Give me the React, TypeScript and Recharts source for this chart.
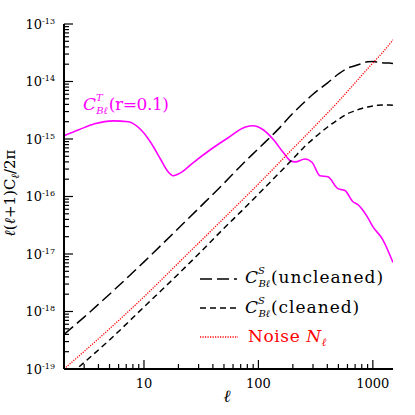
import React from "react";
import { LineChart, Line, XAxis, YAxis } from "recharts";

// multipole values and l(l+1)C_l/2pi
const ellTensor = [2, 2.7, 3.7, 5.4, 7.3, 9.4, 11.5, 14, 16, 18, 21, 27, 38, 54, 77, 90, 110, 135, 165, 190, 210, 255, 295, 345, 405, 495, 570, 670, 740, 890, 1000, 1220, 1500];
const clTensor = [1.14e-15, 1.45e-15, 1.84e-15, 2.07e-15, 2.0e-15, 1.45e-15, 8.6e-16, 4.4e-16, 2.8e-16, 2.3e-16, 2.6e-16, 3.9e-16, 6.5e-16, 1.04e-15, 1.62e-15, 1.7e-15, 1.45e-15, 9.8e-16, 5.8e-16, 4.2e-16, 4.0e-16, 4.5e-16, 3.9e-16, 2.3e-16, 2.2e-16, 1.37e-16, 1.27e-16, 8.1e-17, 7.2e-17, 4.5e-17, 3.0e-17, 1.78e-17, 7.1e-18];

const ellLens = [2, 3, 5, 10, 20, 30, 50, 70, 100, 150, 200, 250, 300, 400, 500, 600, 700, 800, 900, 1000, 1100, 1200, 1300, 1400, 1500];
const clUncleaned = [4.0e-19, 8.0e-19, 2.0e-18, 7.3e-18, 2.8e-17, 6.2e-17, 1.7e-16, 3.4e-16, 6.8e-16, 1.5e-15, 2.8e-15, 4.3e-15, 6.0e-15, 9.4e-15, 1.35e-14, 1.7e-14, 1.88e-14, 2.05e-14, 2.2e-14, 2.22e-14, 2.18e-14, 2.12e-14, 2.1e-14, 2.1e-14, 2.05e-14];
const clCleaned = [6.5e-20, 1.3e-19, 3.2e-19, 1.2e-18, 4.5e-18, 1.0e-17, 2.8e-17, 5.4e-17, 1.1e-16, 2.5e-16, 4.5e-16, 7.2e-16, 1.0e-15, 1.6e-15, 2.2e-15, 2.75e-15, 3.1e-15, 3.4e-15, 3.6e-15, 3.75e-15, 3.85e-15, 3.9e-15, 3.9e-15, 3.9e-15, 3.85e-15];

const ellNoise = [2, 5, 10, 20, 50, 100, 200, 300, 500, 700, 1000, 1200, 1500];
const clNoise = [1.0e-19, 5.0e-19, 1.8e-18, 7.0e-18, 4.2e-17, 1.65e-16, 6.8e-16, 1.55e-15, 4.5e-15, 9.5e-15, 2.1e-14, 3.1e-14, 5.3e-14];

// axes
const yExponents = [-19, -18, -17, -16, -15, -14, -13];
const xMajor = [10, 100, 1000];
const minorSteps = [2, 3, 4, 5, 6, 7, 8, 9];

const W = 415;
const H = 415;
const FONT = "'DejaVu Serif', serif";
const LONG_DASH = "12 5";
const SHORT_DASH = "6 4";
const DOTS = "1.2 1.3";

const zip = (xs: number[], ys: number[]) => xs.map((l, i) => ({ l, v: ys[i] }));
const tensorData = zip(ellTensor, clTensor);
const uncleanedData = zip(ellLens, clUncleaned);
const cleanedData = zip(ellLens, clCleaned);
const noiseData = zip(ellNoise, clNoise);

const yTicks: number[] = [];
yExponents.forEach((e, i) => {
  yTicks.push(Math.pow(10, e));
  if (i < yExponents.length - 1) minorSteps.forEach((m) => yTicks.push(m * Math.pow(10, e)));
});
const xTicks: number[] = [];
[1, 10, 100].forEach((d) => minorSteps.forEach((m) => d * m > 2 && xTicks.push(d * m)));
xMajor.forEach((v) => xTicks.push(v));

const isMajor = (v: number) => Math.abs(Math.log10(v) - Math.round(Math.log10(v))) < 1e-6;

function makeTick(side: "left" | "right" | "top" | "bottom") {
  return (props: any) => {
    const { x, y, payload } = props;
    const v = payload.value;
    const major = isMajor(v);
    const len = major ? 9 : 5;
    let line;
    if (side === "left") line = <line x1={x} y1={y} x2={x + len} y2={y} />;
    else if (side === "right") line = <line x1={x} y1={y} x2={x - len} y2={y} />;
    else if (side === "top") line = <line x1={x} y1={y} x2={x} y2={y + len} />;
    else line = <line x1={x} y1={y} x2={x} y2={y - len} />;
    let label = null;
    if (major && side === "left") {
      const e = Math.round(Math.log10(v));
      label = (
        <text x={x - 9} y={y + 4.5} textAnchor="end" fontSize={13} fontFamily={FONT} fill="#000" stroke="none">
          <tspan>10</tspan>
          <tspan dy={-5} fontSize={8}>{`-${-e}`}</tspan>
        </text>
      );
    }
    if (major && side === "bottom") {
      label = (
        <text x={x} y={y + 19} textAnchor="middle" fontSize={13} fontFamily={FONT} fill="#000" stroke="none">
          {v}
        </text>
      );
    }
    return (
      <g stroke="#000" strokeWidth={1.2}>
        {line}
        {label}
      </g>
    );
  };
}

// C with stacked super/subscript followed by a plain tail, as one text element
function CLabel({ x, y, sup, tail, fill = "#000" }: { x: number; y: number; sup: string; tail: string; fill?: string }) {
  return (
    <text x={x} y={y} fontSize={17} fill={fill}>
      <tspan fontStyle="italic">C</tspan>
      <tspan dy={-9} fontSize={10} fontStyle="italic">{sup}</tspan>
      <tspan dx={-6.5} dy={13} fontSize={10} fontStyle="italic">Bℓ</tspan>
      <tspan dx={1} dy={-4} letterSpacing={tail === "(r=0.1)" ? -0.4 : 1}>{tail}</tspan>
    </text>
  );
}

export default function App() {
  const axisLine = { stroke: "#000", strokeWidth: 2 };
  return (
    <div style={{ position: "absolute", left: 0, top: 0, width: W, height: H }}>
      <LineChart width={W} height={H} margin={{ top: 24, right: 22, bottom: 0, left: 0 }}>
        <XAxis xAxisId="b" type="number" dataKey="l" scale="log" domain={[2, 1500]} allowDataOverflow
          ticks={xTicks} interval={0} tickSize={0} tickMargin={0} height={46} axisLine={axisLine} tickLine={false} tick={makeTick("bottom")} />
        <XAxis xAxisId="t" orientation="top" type="number" dataKey="l" scale="log" domain={[2, 1500]} allowDataOverflow
          ticks={xTicks} interval={0} tickSize={0} tickMargin={0} height={0} axisLine={axisLine} tickLine={false} tick={makeTick("top")} />
        <YAxis yAxisId="l" type="number" scale="log" domain={[1e-19, 1e-13]} allowDataOverflow
          ticks={yTicks} interval={0} tickSize={0} tickMargin={0} width={64} axisLine={axisLine} tickLine={false} tick={makeTick("left")} />
        <YAxis yAxisId="r" orientation="right" type="number" scale="log" domain={[1e-19, 1e-13]} allowDataOverflow
          ticks={yTicks} interval={0} tickSize={0} tickMargin={0} width={0} axisLine={axisLine} tickLine={false} tick={makeTick("right")} />
        <Line xAxisId="b" yAxisId="l" data={tensorData} dataKey="v" type="monotone" stroke="#ff00ff" strokeWidth={1.6} dot={false} isAnimationActive={false} />
        <Line xAxisId="b" yAxisId="l" data={uncleanedData} dataKey="v" type="monotone" stroke="#000" strokeWidth={1.5} strokeDasharray={LONG_DASH} dot={false} isAnimationActive={false} />
        <Line xAxisId="b" yAxisId="l" data={cleanedData} dataKey="v" type="monotone" stroke="#000" strokeWidth={1.5} strokeDasharray={SHORT_DASH} dot={false} isAnimationActive={false} />
        <Line xAxisId="b" yAxisId="l" data={noiseData} dataKey="v" type="monotone" stroke="#ff0000" strokeWidth={1.3} strokeDasharray={DOTS} dot={false} isAnimationActive={false} />
      </LineChart>
      <svg width={W} height={H} style={{ position: "absolute", left: 0, top: 0, pointerEvents: "none" }} fontFamily={FONT}>
        {/* axis titles */}
        <text transform="translate(15,193) rotate(-90)" textAnchor="middle" fontSize={15}>
          <tspan fontStyle="italic">ℓ</tspan>(<tspan fontStyle="italic">ℓ</tspan>+1)C
          <tspan dy={4} fontSize={11} fontStyle="italic">ℓ</tspan>
          <tspan dy={-4}>/2π</tspan>
        </text>
        <text x={227} y={402} textAnchor="middle" fontSize={17} fontStyle="italic">ℓ</text>

        {/* tensor label */}
        <CLabel x={83} y={110} sup="T" tail="(r=0.1)" fill="#ff00ff" />

        {/* legend */}
        <line x1={200} y1={279} x2={237} y2={279} stroke="#000" strokeWidth={1.5} strokeDasharray={LONG_DASH} />
        <CLabel x={245} y={283} sup="S" tail="(uncleaned)" />

        <line x1={200} y1={308} x2={237} y2={308} stroke="#000" strokeWidth={1.5} strokeDasharray={SHORT_DASH} />
        <CLabel x={245} y={313} sup="S" tail="(cleaned)" />

        <line x1={200} y1={337} x2={238} y2={337} stroke="#ff0000" strokeWidth={1.3} strokeDasharray={DOTS} />
        <text x={248} y={342} fontSize={17} fill="#ff0000" letterSpacing={0.6}>
          Noise <tspan fontStyle="italic">N</tspan>
          <tspan dy={4} fontSize={11} fontStyle="italic">ℓ</tspan>
        </text>
      </svg>
    </div>
  );
}
